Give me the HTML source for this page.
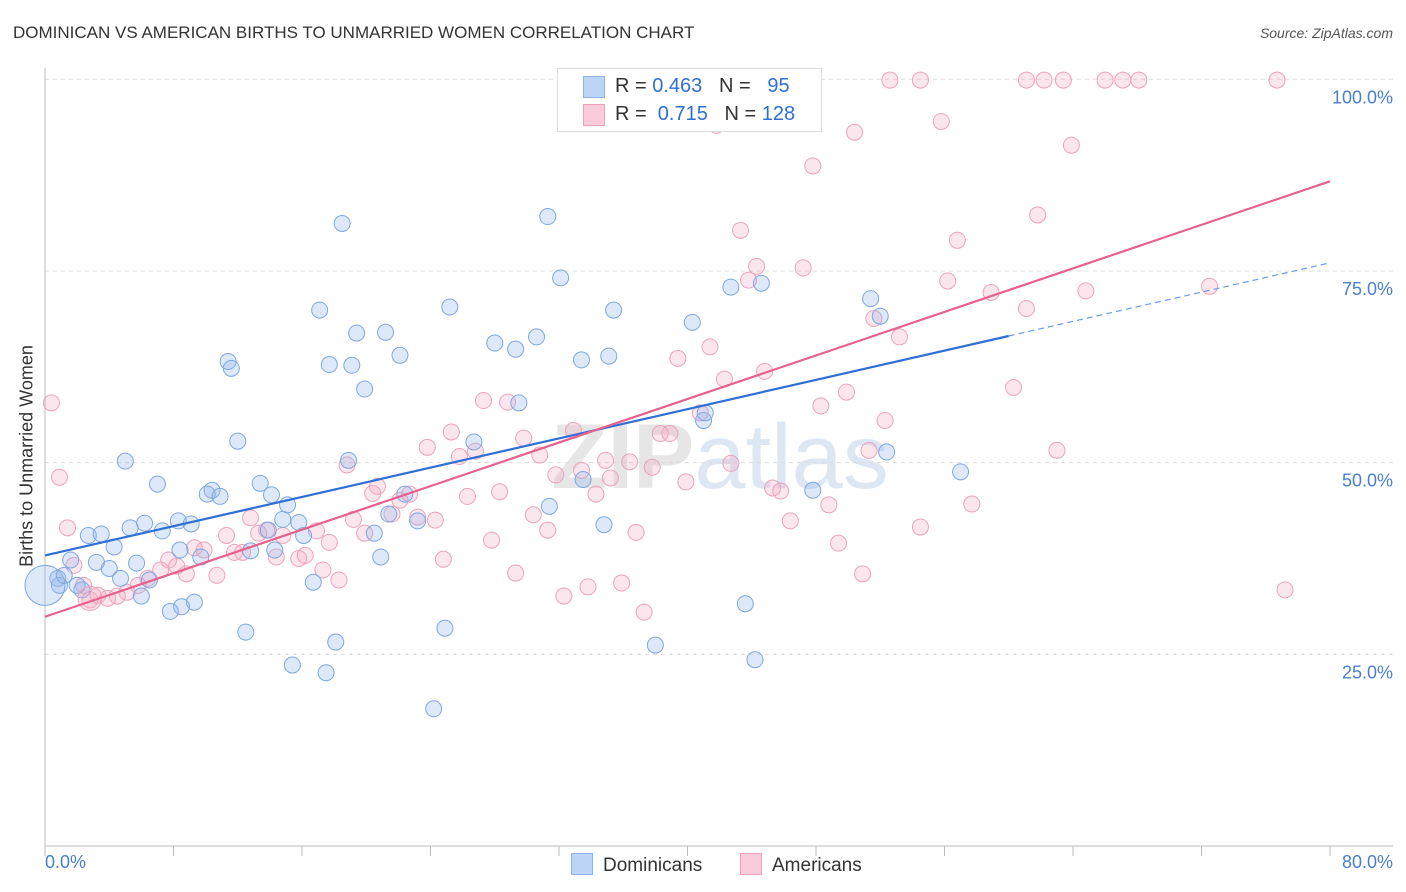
<!DOCTYPE html>
<html><head><meta charset="utf-8"><style>
body{margin:0;background:#fff;font-family:"Liberation Sans",sans-serif;}
#wrap{position:relative;width:1406px;height:892px;overflow:hidden;}
.t{position:absolute;white-space:nowrap;}
</style></head><body>
<div id="wrap">
<div class="t" style="left:13px;top:23px;font-size:17px;color:#333;">DOMINICAN VS AMERICAN BIRTHS TO UNMARRIED WOMEN CORRELATION CHART</div>
<div class="t" style="right:13px;top:25px;font-size:14px;color:#555;font-style:italic;">Source: ZipAtlas.com</div>
<svg id="plot" width="1406" height="892" style="position:absolute;left:0;top:0"></svg>
</div>
<script>
const blueX=[18.5,31.3,32.1,17.1,25.2,35.4,42.7,44.6,51.4,52.0,40.3,19.4,21.2,28.0,29.3,30.6,17.7,19.1,22.1,33.4,35.1,11.4,11.6,19.9,29.5,12.0,26.7,18.9,5.0,52.4,57.0,7.0,10.4,10.1,10.9,13.4,14.1,15.1,22.4,21.4,23.2,31.4,33.5,47.8,8.3,9.1,6.2,5.3,7.3,14.8,15.8,13.9,16.1,2.7,3.5,4.3,8.4,9.7,12.8,14.3,20.5,20.9,34.8,1.6,3.2,5.7,4.0,4.7,6.5,0.8,0.9,2.3,6.0,9.3,8.5,7.8,12.5,16.7,24.9,18.1,38.0,43.6,44.2,15.4,17.5,24.2,0,41.0,41.1,2.0,1.2];
const blueY=[81.2,82.1,74.1,69.9,70.3,69.9,72.9,73.4,71.4,69.1,68.3,66.9,67.0,65.6,64.8,66.4,62.8,62.7,64.0,63.4,63.9,63.2,62.3,59.6,57.8,52.8,52.7,50.3,50.2,51.4,48.8,47.2,46.4,45.9,45.6,47.3,45.8,44.5,45.9,43.3,42.4,44.3,47.8,46.4,42.4,42.0,42.1,41.5,41.1,42.6,42.2,41.2,40.5,40.5,40.7,39.0,38.6,37.7,38.5,38.6,40.8,37.7,41.9,37.3,37.0,36.9,36.2,34.9,34.7,34.9,34.0,33.4,32.6,31.8,31.2,30.6,27.9,34.4,28.4,26.6,26.2,31.6,24.3,23.6,22.6,17.9,34.0,55.5,56.5,34.0,35.3];
const blueSize=[];for(let i=0;i<blueX.length;i++)blueSize.push(i===86?20:8);
const pinkX=[0.4,0.9,1.4,1.8,2.4,2.8,3.3,3.9,4.5,5.1,5.8,6.4,7.2,7.7,8.2,8.8,9.3,9.9,10.7,11.3,11.8,12.3,12.8,13.3,13.8,14.4,14.8,15.8,16.2,16.9,17.3,17.7,18.3,18.8,19.2,19.9,20.4,20.7,21.6,22.1,22.7,23.2,23.8,24.3,24.8,25.3,25.8,26.3,26.8,27.3,27.8,28.3,28.8,29.3,29.8,30.4,30.8,31.3,31.8,32.3,32.9,33.4,33.8,34.3,34.9,35.2,35.9,36.4,36.8,37.3,37.8,38.3,38.9,39.4,39.9,40.8,41.4,41.8,42.3,42.7,43.3,43.8,44.3,44.8,45.3,45.8,46.4,47.2,47.8,48.3,48.8,49.4,49.9,50.4,50.9,51.3,51.6,52.3,53.2,54.5,55.8,56.2,56.8,57.7,58.9,60.3,61.1,61.8,63.0,63.9,64.8,72.5,77.2,52.6,54.5,61.1,62.2,63.4,66.0,67.1,68.1,76.7];
const pinkY=[57.8,48.1,41.5,36.6,34.0,32.1,32.7,32.3,32.6,33.1,34.0,34.9,36.0,37.3,36.5,35.5,38.9,38.6,35.3,40.5,38.3,38.3,42.8,40.8,41.2,37.7,40.5,37.5,37.9,41.1,36.0,39.6,34.7,49.7,42.6,40.8,46.0,46.9,43.3,45.1,45.9,42.9,52.0,42.5,37.4,54.0,50.8,45.6,51.5,58.1,39.9,46.2,57.9,35.6,53.2,43.2,51.0,41.2,48.4,32.6,54.2,49.0,33.8,45.9,50.3,48.0,34.3,50.1,40.9,30.5,49.4,53.8,53.8,63.6,47.5,56.5,65.1,94.0,60.9,49.9,80.3,73.8,75.6,61.9,46.7,46.3,42.4,75.4,88.7,57.4,44.5,39.5,59.2,93.1,35.5,51.6,68.8,55.5,66.4,41.6,94.5,73.7,79.0,44.6,72.2,59.8,70.1,82.3,51.6,91.4,72.4,73.0,33.4,99.9,99.9,99.9,99.9,99.9,99.9,99.9,99.9,99.9];
const blueTrend=[37.9,0.477,60,80];
const pinkTrend=[29.9,0.71,0,80];
const yTicks=[25,50,75,100];
const yTickLabels=["25.0%","50.0%","75.0%","100.0%"];
const xTicks=[0,8,16,24,32,40,48,56,64,72,80];

const X0=45,X1=1330,Y0=846,Y1=79.3;
const sx=v=>X0+(v/80)*(X1-X0);
const sy=v=>Y0-(v/100)*(Y0-Y1);
const svg=document.getElementById('plot');
const NS='http://www.w3.org/2000/svg';
function mk(tag,attrs,parent){const e=document.createElementNS(NS,tag);for(const k in attrs)e.setAttribute(k,attrs[k]);(parent||svg).appendChild(e);return e;}

let wm=mk('text',{x:720,y:488,'text-anchor':'middle','font-size':92,'font-family':'Liberation Sans, sans-serif','font-weight':'bold',fill:'#e8ebf0'});


wm.innerHTML='<tspan fill="#e6e6e6">ZIP</tspan><tspan fill="#dde7f4" font-weight="normal">atlas</tspan>';

for(let i=0;i<yTicks.length;i++){
  const g=mk('line',{x1:X0,x2:1393,y1:sy(yTicks[i]),y2:sy(yTicks[i]),stroke:'#dcdcdc','stroke-dasharray':'4,4'});
  
  
  const t=mk('text',{x:1393,y:sy(yTicks[i])+24,'text-anchor':'end','font-size':18,fill:'#4a7fd0','font-family':'Liberation Sans, sans-serif'});
  t.textContent=yTickLabels[i];
  
  
}
let ax=mk('line',{x1:X0,x2:X0,y1:68,y2:Y0,stroke:'#bbb'});


let bx=mk('line',{x1:X0,x2:1393,y1:Y0,y2:Y0,stroke:'#bbb'});


for(const v of xTicks){
  const tk=mk('line',{x1:sx(v),x2:sx(v),y1:Y0,y2:Y0+10,stroke:'#bbb'});
  
  
}

function dots(xs,ys,fill,stroke,name,sizes){
  for(let i=0;i<xs.length;i++){
    const c=mk('circle',{cx:sx(xs[i]),cy:sy(ys[i]),r:sizes?sizes[i]:8,fill:fill,stroke:stroke,'stroke-width':1});
    
    
  }
}
dots(pinkX,pinkY,'rgba(245,165,190,0.28)','#eba3bd','american-point');
dots(blueX,blueY,'rgba(150,185,235,0.32)','#7ea8e0','dominican-point',blueSize);
let bigp=mk('circle',{cx:sx(2.8),cy:sy(32.3),r:12,fill:'rgba(245,165,190,0.28)',stroke:'#eba3bd'});



let bl=mk('line',{x1:sx(0),y1:sy(blueTrend[0]),x2:sx(blueTrend[2]),y2:sy(blueTrend[0]+blueTrend[1]*blueTrend[2]),stroke:'#2f6fd6','stroke-width':2.2});


let bd=mk('line',{x1:sx(blueTrend[2]),y1:sy(blueTrend[0]+blueTrend[1]*blueTrend[2]),x2:sx(blueTrend[3]),y2:sy(blueTrend[0]+blueTrend[1]*blueTrend[3]),stroke:'#6e9be0','stroke-width':1.2,'stroke-dasharray':'6,4'});


let pl=mk('line',{x1:sx(pinkTrend[2]),y1:sy(pinkTrend[0]),x2:sx(pinkTrend[3]),y2:sy(pinkTrend[0]+pinkTrend[1]*pinkTrend[3]),stroke:'#e8608e','stroke-width':2.2});


</script>
<div class="t" style="left:45px;top:852px;font-size:18px;color:#4a7fd0;">0.0%</div>
<div class="t" style="right:13px;top:852px;font-size:18px;color:#4a7fd0;">80.0%</div>
<div class="t" style="left:27px;top:456px;font-size:18px;color:#333;transform:translate(-50%,-50%) rotate(-90deg);">Births to Unmarried Women</div>
<div style="position:absolute;left:557px;top:68px;width:263px;height:62px;border:1px solid #ddd;background:#fff;font-size:20px;">
  <div style="position:absolute;left:25px;top:7px;width:20px;height:20px;background:#bcd4f5;border:1px solid #8db2e6;"></div>
  <div class="t" style="left:57px;top:6px;color:#333;">R = <span style="color:#2f6fd6">0.463</span> &nbsp; N = &nbsp; <span style="color:#2f6fd6">95</span></div>
  <div style="position:absolute;left:25px;top:35px;width:20px;height:20px;background:#fbcbdb;border:1px solid #eea0bc;"></div>
  <div class="t" style="left:57px;top:34px;color:#333;">R = &nbsp;<span style="color:#2f6fd6">0.715</span> &nbsp; N = <span style="color:#2f6fd6">128</span></div>
</div>
<div style="position:absolute;left:571px;top:853px;font-size:19px;color:#333;">
  <span style="display:inline-block;width:20px;height:20px;background:#bcd4f5;border:1px solid #8db2e6;vertical-align:-4px;margin-right:10px;"></span>Dominicans</div>
<div style="position:absolute;left:740px;top:853px;font-size:19px;color:#333;">
  <span style="display:inline-block;width:20px;height:20px;background:#fbcbdb;border:1px solid #eea0bc;vertical-align:-4px;margin-right:10px;"></span>Americans</div>
</body></html>
